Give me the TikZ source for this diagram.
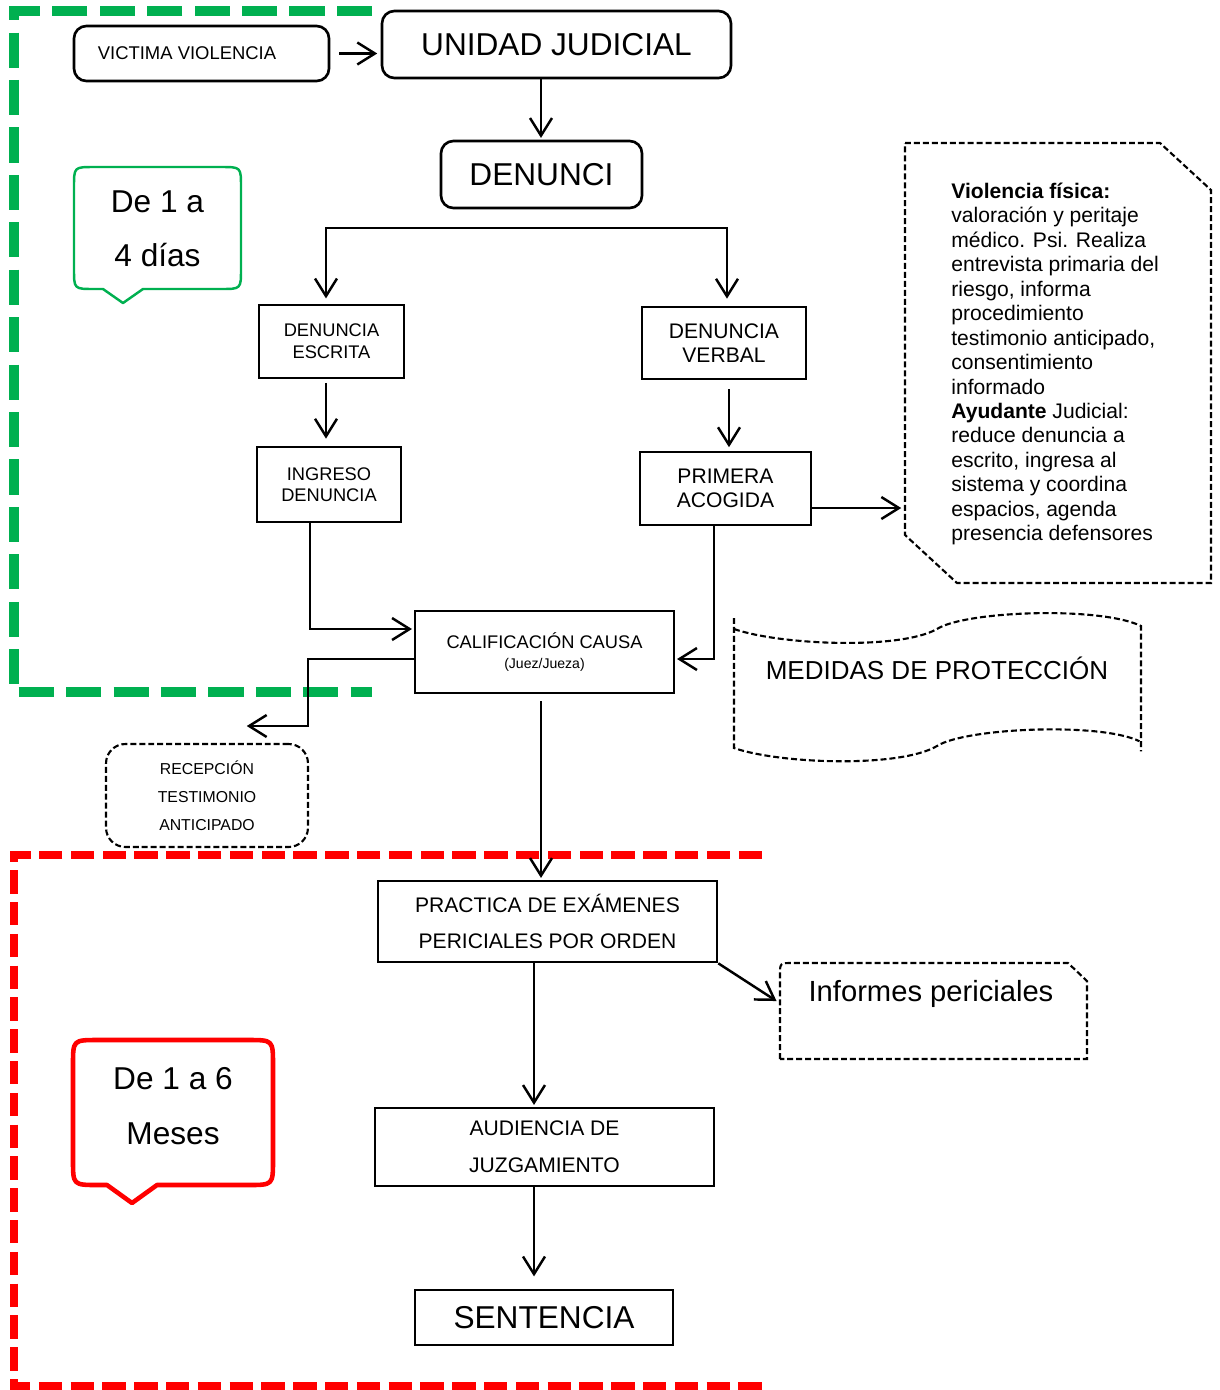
\documentclass[tikz,border=0pt]{standalone}
\usepackage{fontspec}
\setmainfont{Liberation Sans}
\usetikzlibrary{arrows.meta,positioning}

\definecolor{verde}{RGB}{0,176,80}
\definecolor{rojo}{RGB}{255,0,0}
\newcommand{\fs}[2]{\fontsize{#1}{#2}\selectfont}

\tikzset{
  caja/.style={draw,line width=1.5pt,align=center,inner sep=0pt},
  cajar/.style={caja,rounded corners=7pt},
  punteada/.style={draw,line width=1.2pt,dash pattern=on 3.4pt off 1.7pt},
  flecha/.style={->,line width=1.4pt},
  globo/.style={line width=1.4pt,line join=round}
}

\begin{document}
\begin{tikzpicture}[x=0.02cm,y=-0.02cm,>={Straight Barb[length=10pt,width=12.5pt]},shorten >=1pt]
    \useasboundingbox (0,0) rectangle (1220,1390);

    \draw[verde,line width=5.7pt,dash pattern=on 20pt off 7pt,shorten >=0pt] (372,11) -- (14,11) -- (14,692) -- (372,692);
    \draw[rojo,line width=4.5pt,dash pattern=on 13.3pt off 4.8pt,shorten >=0pt] (762,855) -- (14,855) -- (14,1386) -- (762,1386);

    \node[cajar,minimum width=5.1cm,minimum height=1.1cm,font=\fs{10.5}{12}] (victima) at (201.5,53.5) {VICTIMA VIOLENCIA\hspace*{0.58cm}};
    \node[cajar,minimum width=6.98cm,minimum height=1.34cm,font=\fs{18}{20}] (unidad) at (556.5,44.5) {UNIDAD JUDICIAL};
    \node[cajar,minimum width=4.02cm,minimum height=1.34cm,font=\fs{18}{20}] (denunci) at (541.5,174.5) {DENUNCI};
    \node[caja,minimum width=2.9cm,minimum height=1.46cm,font=\fs{10.4}{12.5}] (escrita) at (331.5,341.5) {DENUNCIA\\ESCRITA};
    \node[caja,minimum width=3.28cm,minimum height=1.44cm,font=\fs{12}{14}] (verbal) at (724,343) {DENUNCIA\\VERBAL};
    \node[caja,minimum width=2.88cm,minimum height=1.5cm,font=\fs{10.4}{12}] (ingreso) at (329,484.5) {INGRESO\\DENUNCIA};
    \node[caja,minimum width=3.42cm,minimum height=1.46cm,font=\fs{12}{13.6}] (primera) at (725.5,488.5) {PRIMERA\\ACOGIDA};
    \node[caja,minimum width=5.18cm,minimum height=1.64cm,font=\fs{10.4}{11}] (calif) at (544.5,652) {CALIFICACIÓN CAUSA\\{\fs{8}{11}(Juez/Jueza)}};
    \node[punteada,rounded corners=11pt,minimum width=4.04cm,minimum height=2.06cm,align=center,inner sep=0pt,font=\fs{9}{15.9}] (recep) at (207,795.5) {RECEPCIÓN\\TESTIMONIO\\ANTICIPADO};
    \node[caja,minimum width=6.78cm,minimum height=1.62cm,font=\fs{12}{20}] (practica) at (547.5,921.5) {PRACTICA DE EXÁMENES\\PERICIALES POR ORDEN};
    \node[caja,minimum width=6.78cm,minimum height=1.56cm,font=\fs{12}{21}] (audiencia) at (544.5,1147) {AUDIENCIA DE\\JUZGAMIENTO};
    \node[caja,minimum width=5.16cm,minimum height=1.1cm,font=\fs{18}{20}] (sentencia) at (544,1317.5) {SENTENCIA};

    \draw[punteada] (905,143) -- (1160,143) -- (1211,190) -- (1211,583) -- (957,583) -- (905,535) -- cycle;
    \node[anchor=west,align=left,inner sep=0pt,font=\fs{12}{13.93}] (nota) at (951,364) {\textbf{Violencia física:}\\valoración y peritaje\\médico. Psi. Realiza\\entrevista primaria del\\riesgo, informa\\procedimiento\\testimonio anticipado,\\consentimiento\\informado\\\textbf{Ayudante} Judicial:\\reduce denuncia a\\escrito, ingresa al\\sistema y coordina\\espacios, agenda\\presencia defensores};

    \draw[punteada] (734,618) -- (734,748) .. controls (780,764) and (900,768) .. (937,746) .. controls (965,728) and (1100,722) .. (1141,742);
    \draw[punteada] (734,629) .. controls (780,645) and (900,650) .. (937,629) .. controls (965,611) and (1100,606) .. (1141,626) -- (1141,753);
    \node[font=\fs{14.8}{16}] (medidas) at (937,668) {MEDIDAS DE PROTECCIÓN};

    \draw[punteada] (780,1059) -- (780,975) .. controls (780,963) .. (792,963) -- (1068,963) -- (1087,981) -- (1087,1059) -- cycle;
    \node[font=\fs{16.6}{18}] (informes) at (931,994) {Informes periciales};

    \draw[globo,verde] (103,289) -- (123,303) -- (143,289) -- (221,289) .. controls (241,289) .. (241,269) -- (241,187) .. controls (241,167) .. (221,167) -- (94,167) .. controls (74,167) .. (74,187) -- (74,269) .. controls (74,289) .. (94,289) -- cycle;
    \node[align=center,font=\fs{18}{31}] (plazo1) at (157.5,229) {De 1 a\\4 días};
    \draw[globo,rojo,line width=2.6pt] (107,1185) -- (132,1203) -- (157,1185) -- (248,1185) .. controls (273,1185) .. (273,1160) -- (273,1065) .. controls (273,1040) .. (248,1040) -- (98,1040) .. controls (73,1040) .. (73,1065) -- (73,1160) .. controls (73,1185) .. (98,1185) -- cycle;
    \node[align=center,font=\fs{18}{31}] (plazo2) at (173,1106) {De 1 a 6\\Meses};

    \coordinate (xm) at (541,0);
    \coordinate (ramaI) at (326,228);
    \coordinate (ramaD) at (727,228);
    \coordinate (xv) at (729,0);
    \coordinate (xa) at (534,0);
    \coordinate (notaO) at (903,508);
    \coordinate (codo1) at (310,629);
    \coordinate (codo2) at (714,659);
    \coordinate (codo3) at (308,659);
    \coordinate (recepN) at (245,726);
    \coordinate (infO) at (778,1002);

    \draw[flecha,shorten <=5pt,shorten >=2pt] (victima.east) -- (victima.east -| unidad.west);
    \draw[flecha] (unidad.south -| xm) -- (denunci.north -| xm);
    \draw[<->,line width=1.4pt,shorten <=3pt,shorten >=4pt] (escrita.north -| ramaI) -- (ramaI) -- (ramaD) -- (verbal.north -| ramaD);
    \draw[flecha,shorten <=2pt,shorten >=4pt] (escrita.south -| ramaI) -- (ingreso.north -| ramaI);
    \draw[flecha,shorten <=5pt,shorten >=2pt] (verbal.south -| xv) -- (primera.north -| xv);
    \draw[flecha] (primera.east |- notaO) -- (notaO);
    \draw[flecha] (ingreso.south -| codo1) |- (calif.west |- codo1);
    \draw[flecha] (primera.south -| codo2) |- (calif.east |- codo2);
    \draw[flecha] (calif.west |- codo3) -| (codo3 |- recepN) -- (recepN);
    \draw[flecha,shorten <=4pt] (calif.south -| xm) -- (practica.north -| xm);
    \draw[flecha] (practica.south east) -- (infO);
    \draw[flecha] (practica.south -| xa) -- (audiencia.north -| xa);
    \draw[flecha,shorten >=7pt] (audiencia.south -| xa) -- (sentencia.north -| xa);
\end{tikzpicture}
\end{document}
